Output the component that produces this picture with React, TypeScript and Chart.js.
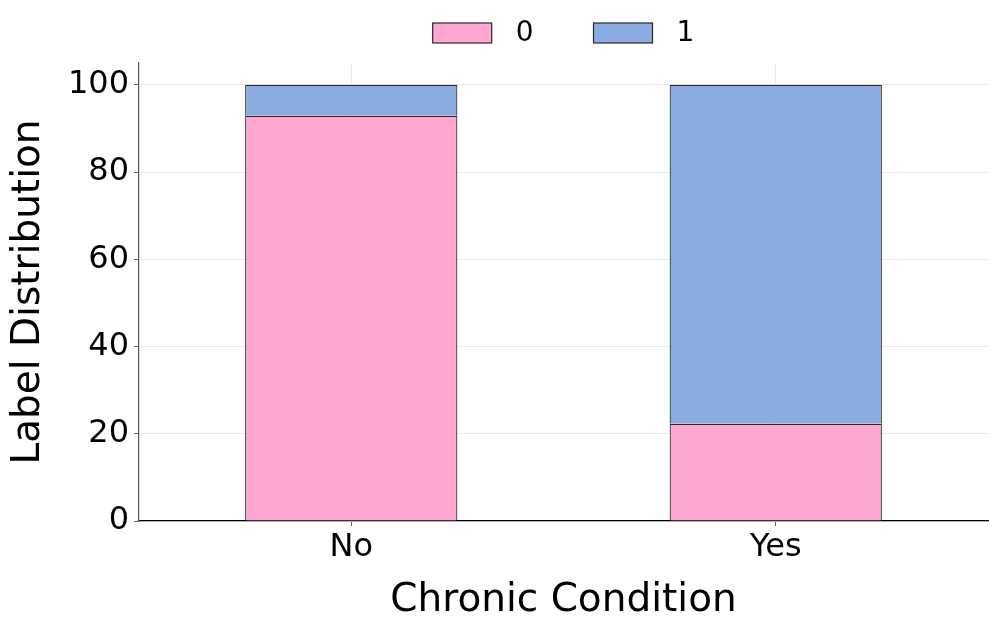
import React, { useEffect, useRef } from "react";
import { Chart, registerables } from "chart.js";

Chart.register(...registerables);

const categories = ["No", "Yes"];
const seriesLabels = ["0", "1"];
const series0 = [92.9, 22.3];
const series1 = [7.1, 77.7];
const yTicks = [0, 20, 40, 60, 80, 100];

const FONT = "'DejaVu Sans', sans-serif";

const legendPlugin = {
  id: "customLegend",
  afterDraw(chart: any) {
    const ctx = chart.ctx;
    const area = chart.chartArea;
    const boxW = 59;
    const boxH = 20;
    const gap = 24;
    const itemGap = 60;
    ctx.save();
    ctx.font = `28px ${FONT}`;
    const items = chart.data.datasets.map((ds: any) => ({
      label: ds.label,
      fill: ds.backgroundColor,
      stroke: ds.borderColor,
      w: boxW + gap + ctx.measureText(ds.label).width,
    }));
    const total = items.reduce((s: number, it: any) => s + it.w, 0) + itemGap * (items.length - 1);
    let x = (area.left + area.right) / 2 - total / 2;
    const cy = 33;
    items.forEach((it: any) => {
      ctx.fillStyle = it.fill;
      ctx.fillRect(x, cy - boxH / 2, boxW, boxH);
      ctx.strokeStyle = it.stroke;
      ctx.lineWidth = 1.2;
      ctx.strokeRect(x, cy - boxH / 2, boxW, boxH);
      ctx.fillStyle = "#000";
      ctx.textBaseline = "middle";
      ctx.textAlign = "left";
      ctx.fillText(it.label, x + boxW + gap, cy + 1);
      x += it.w + itemGap;
    });
    ctx.restore();
  },
};

export default function App() {
  const ref = useRef<HTMLCanvasElement>(null);
  useEffect(() => {
    document.body.style.margin = "0";
    if (!ref.current) return;
    const chart = new Chart(ref.current, {
      type: "bar",
      data: {
        labels: categories,
        datasets: [
          {
            label: seriesLabels[0],
            data: series0,
            backgroundColor: "#FFA6D1",
            borderColor: "#2a2a2a",
            borderWidth: 1.2,
            barPercentage: 0.5,
            categoryPercentage: 1,
          },
          {
            label: seriesLabels[1],
            data: series1,
            backgroundColor: "#8AACE0",
            borderColor: "#2a2a2a",
            borderWidth: 1.2,
            barPercentage: 0.5,
            categoryPercentage: 1,
          },
        ],
      },
      options: {
        animation: false,
        responsive: true,
        maintainAspectRatio: false,
        layout: { padding: { top: 63, left: 0, right: 9, bottom: 0 } },
        plugins: {
          legend: { display: false },
          tooltip: { enabled: false },
        },
        scales: {
          x: {
            stacked: true,
            afterFit: (s: any) => {
              s.height = 108;
            },
            grid: {
              offset: false,
              color: "#ebebeb",
              tickColor: "#666",
              tickLength: 5,
            },
            border: { color: "#000", width: 1.2 },
            ticks: {
              color: "#000",
              font: { family: FONT, size: 32 },
              padding: 2,
            },
            title: {
              display: true,
              text: "Chronic Condition",
              color: "#000",
              font: { family: FONT, size: 39 },
              padding: { top: 0, bottom: 5 },
            },
          },
          y: {
            stacked: true,
            min: 0,
            max: 105,
            afterFit: (s: any) => {
              s.width = 139;
            },
            afterBuildTicks: (s: any) => {
              s.ticks = yTicks.map((v) => ({ value: v }));
            },
            grid: {
              color: "#ebebeb",
              tickColor: "#666",
              tickLength: 5,
            },
            border: { color: "#555", width: 1.2 },
            ticks: {
              color: "#000",
              font: { family: FONT, size: 32 },
              padding: 5,
            },
            title: {
              display: true,
              text: "Label Distribution",
              color: "#000",
              font: { family: FONT, size: 39 },
              padding: { top: 5, bottom: 0 },
            },
          },
        },
      },
      plugins: [legendPlugin],
    });
    return () => chart.destroy();
  }, []);
  return (
    <div style={{ width: 997, height: 629, position: "relative" }}>
      <canvas ref={ref} />
    </div>
  );
}
